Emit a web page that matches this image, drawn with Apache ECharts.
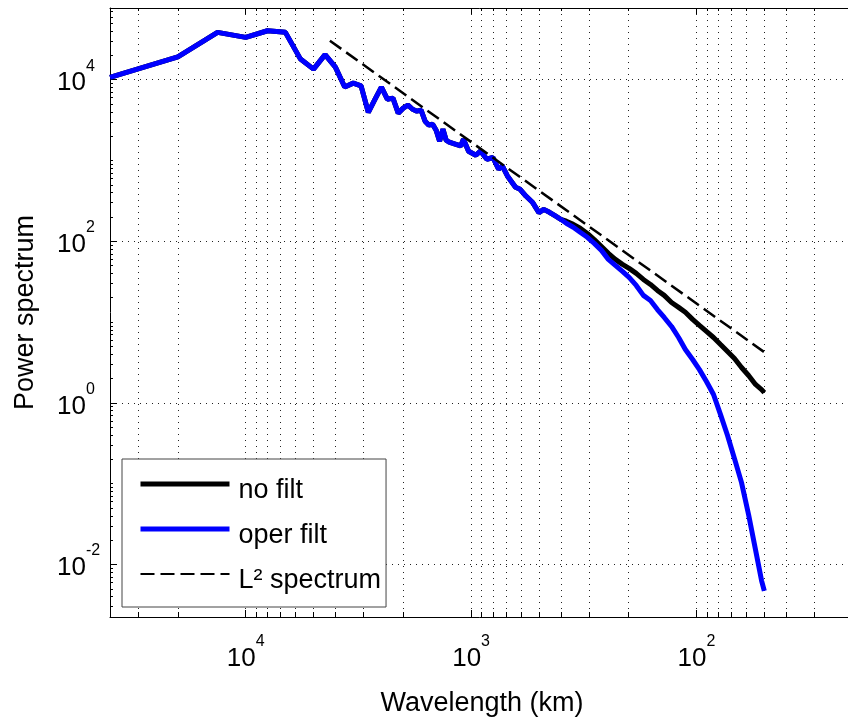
<!DOCTYPE html>
<html>
<head>
<meta charset="utf-8">
<script src="https://cdn.jsdelivr.net/npm/echarts@6/dist/echarts.min.js"></script>
<style>
  html, body { margin: 0; padding: 0; background: #fff; }
  #chart { width: 848px; height: 717px; }
</style>
</head>
<body>
<div id="chart"></div>
<script>
// wavelength (km) of every spectral point, longest first
const wavelength = [40000, 20000, 13333, 10000, 8000, 6667, 5714, 5000, 4444, 4000,
  3636, 3333, 3077, 2857, 2667, 2500, 2353, 2222, 2105, 2000,
  1905, 1818, 1739, 1667, 1600, 1538, 1481, 1429, 1379, 1333,
  1290, 1250, 1176, 1111, 1081, 1026, 952, 909, 851, 800,
  755, 727, 690, 635, 606, 571, 533, 500, 476, 449, 421, 400,
  378, 352, 328, 305, 284, 264, 246, 229, 213, 199,
  185, 172, 160, 149, 139, 129, 120, 112, 104, 97,
  90.3, 84, 78.2, 72.8, 67.8, 63.1, 58.7, 54.7, 51.4, 50];

// both runs are the same down to ~400 km
const commonPower = [10650, 19170, 38460, 33340, 40270, 38460, 17950, 13490, 20400, 14280,
  8120, 9050, 8380, 3930, 5730, 8070, 5730, 5900, 3850, 4440,
  4830, 4300, 4070, 4190, 3060, 2730, 2810, 2370, 1730, 2440,
  1780, 1680, 1590, 1510, 1830, 1300, 1160, 1310, 1035, 1087,
  778, 855, 643, 466, 440, 363, 301, 226, 248, 228, 204, 187];

const noFiltTail = [177, 162, 145, 125, 105, 86.3, 70.8, 59.7, 51.8, 46.2,
  40.0, 33.7, 29.2, 24.6, 21.4, 17.5, 15.2, 13.2, 10.8, 9.08,
  7.65, 6.44, 5.27, 4.32, 3.54, 2.74, 2.18, 1.69, 1.46, 1.34];

const operFiltTail = [167, 149, 129, 112, 94.1, 77.1, 59.7, 50.3, 42.4, 35.7,
  28.4, 21.4, 18.5, 14.3, 11.4, 8.82, 6.44, 4.57, 3.44, 2.58,
  1.84, 1.27, 0.716, 0.394, 0.204, 0.103, 0.0413, 0.0152, 0.00628, 0.00472];

const noFilt = commonPower.concat(noFiltTail);
const operFilt = commonPower.concat(operFiltTail);

// reference L^2 line, two ends
const l2Wavelength = [4230, 50];
const l2Power = [30300, 4.24];

const xLabelTicks = [10000, 1000, 100];
const yLabelTicks = [0.01, 1, 100, 10000];
const xMin = 20, xMax = 40000;
const yMin = 0.00224, yMax = 77000;

const FONT = '"Liberation Sans", Arial, Helvetica, sans-serif';

function logTicks(lo, hi) {
  const out = [];
  for (let e = Math.floor(Math.log10(lo)); e <= Math.ceil(Math.log10(hi)); e++) {
    for (let k = 1; k <= 9; k++) {
      const v = +(k * Math.pow(10, e)).toPrecision(6);
      if (v >= lo && v <= hi) out.push(v);
    }
  }
  return out;
}
const xAll = logTicks(xMin, xMax);
const yAll = logTicks(yMin, yMax);

function powLabel(v) {
  return '{b|10}{s|' + Math.round(Math.log10(v)) + '}';
}
const supRich = {
  b: { fontSize: 26, fontFamily: FONT, color: '#000', verticalAlign: 'bottom' },
  s: { fontSize: 16, fontFamily: FONT, color: '#000', verticalAlign: 'top', padding: [0, 0, 22, 0] }
};

// legend text sits a little below its line sample
const legendRich = {
  t: { fontSize: 27, fontFamily: FONT, color: '#000', lineHeight: 43, padding: [13, 0, 0, 4] }
};

const black = { color: '#000', width: 1 };
const dotted = { color: '#222', width: 1, type: [1, 5] };
const pairs = (xs, ys) => xs.map((x, i) => [x, ys[i]]);

const xBase = { type: 'log', inverse: true, min: xMin, max: xMax };
const yBase = { type: 'log', min: yMin, max: yMax };

let option = {
  animation: false,
  backgroundColor: '#fff',
  grid: { left: 110, right: -6, top: 8, bottom: 100, containLabel: false, outerBoundsMode: 'none' },
  xAxis: [
    {
      ...xBase, position: 'bottom',
      axisLine: { show: true, lineStyle: black },
      axisTick: { show: true, inside: true, length: 5, customValues: xAll, lineStyle: black },
      axisLabel: { customValues: xLabelTicks, formatter: powLabel, rich: supRich, margin: 17 },
      splitLine: { show: true, lineStyle: dotted },
      name: 'Wavelength (km)', nameLocation: 'middle', nameGap: 73,
      nameTextStyle: { fontSize: 27, fontFamily: FONT, color: '#000' }
    },
    {
      ...xBase, position: 'bottom',
      axisLine: { show: false },
      axisTick: { show: true, inside: true, length: 7, customValues: xLabelTicks, lineStyle: black },
      axisLabel: { show: false }, splitLine: { show: false }
    },
    {
      ...xBase, position: 'top',
      axisLine: { show: true, lineStyle: black },
      axisTick: { show: true, inside: true, length: 3, customValues: xAll, lineStyle: black },
      axisLabel: { show: false }, splitLine: { show: false }
    },
    {
      ...xBase, position: 'top',
      axisLine: { show: false },
      axisTick: { show: true, inside: true, length: 6, customValues: xLabelTicks, lineStyle: black },
      axisLabel: { show: false }, splitLine: { show: false }
    }
  ],
  yAxis: [
    {
      ...yBase, position: 'left',
      axisLine: { show: true, lineStyle: black },
      axisTick: { show: true, inside: true, length: 3, customValues: yAll, lineStyle: black },
      axisLabel: { customValues: yLabelTicks, formatter: powLabel, rich: supRich,
        align: 'left', margin: 53, padding: [0, 0, 5, 0] },
      splitLine: { show: false },
      name: 'Power spectrum', nameLocation: 'middle', nameGap: 71, nameRotate: 90,
      nameTextStyle: { fontSize: 27, fontFamily: FONT, color: '#000' }
    },
    {
      ...yBase, position: 'left',
      axisLine: { show: false },
      axisTick: { show: true, inside: true, length: 7, customValues: yLabelTicks, lineStyle: black },
      axisLabel: { show: false },
      splitLine: { show: true, lineStyle: dotted }
    }
  ],
  legend: {
    orient: 'vertical', left: 122, top: 459,
    padding: [5, 5, 13, 16], itemGap: 5, itemWidth: 89, itemHeight: 20,
    borderColor: '#444', borderWidth: 1, backgroundColor: '#fff',
    formatter: name => '{t|' + name + '}',
    textStyle: { fontSize: 27, fontFamily: FONT, color: '#000', rich: legendRich },
    itemStyle: { opacity: 0 },
    data: [
      { name: 'no filt', lineStyle: { width: 5 }, textStyle: { rich: legendRich } },
      { name: 'oper filt', lineStyle: { width: 5 }, textStyle: { rich: legendRich } },
      { name: 'L² spectrum', lineStyle: { width: 2 }, textStyle: { rich: legendRich } }
    ]
  },
  series: [
    {
      name: 'no filt', type: 'line', symbol: 'none',
      data: pairs(wavelength, noFilt),
      color: '#000',
      lineStyle: { color: '#000', width: 5 }
    },
    {
      name: 'oper filt', type: 'line', symbol: 'none',
      data: pairs(wavelength, operFilt),
      color: '#0000ff',
      lineStyle: { color: '#0000ff', width: 5 }
    },
    {
      name: 'L² spectrum', type: 'line', symbol: 'none',
      data: pairs(l2Wavelength, l2Power),
      color: '#000',
      lineStyle: { color: '#000', width: 2.5, type: [14, 6] }
    }
  ]
};

let chart = echarts.init(document.getElementById('chart'), null, { renderer: 'canvas' });
chart.setOption(option);
</script>
</body>
</html>
